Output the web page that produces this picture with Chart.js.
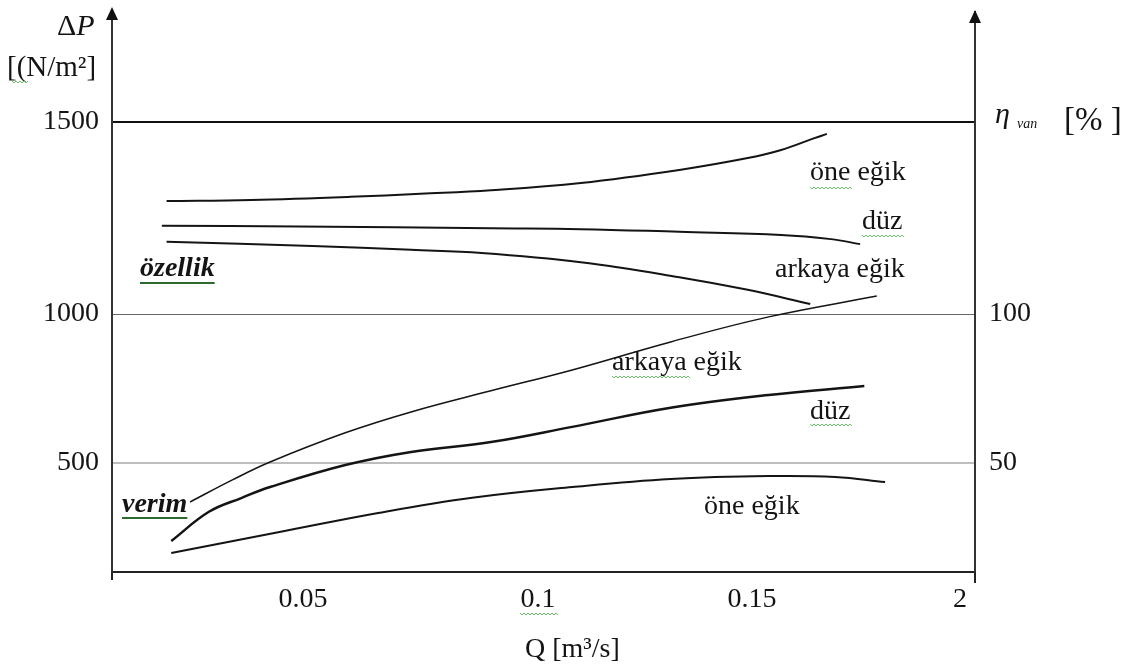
<!DOCTYPE html>
<html>
<head>
<meta charset="utf-8">
<script src="https://cdn.jsdelivr.net/npm/chart.js@4.4.0/dist/chart.umd.min.js"></script>
<style>
  body { margin: 0; background: #fff; }
  #kutu { width: 1123px; height: 666px; }
</style>
</head>
<body>
<div id="kutu"><canvas id="grafik"></canvas></div>
<script>
// ---- veriler ----
// özellik egrileri: ΔP [N/m²]
const qOneP = [0.021, 0.039, 0.060, 0.075, 0.090, 0.110, 0.133, 0.149, 0.157, 0.165, 0.168];
const pOne  = [1294, 1297, 1305, 1313, 1322, 1341, 1375, 1406, 1427, 1458, 1469];

const qDuzP = [0.020, 0.049, 0.090, 0.110, 0.133, 0.157, 0.169, 0.176];
const pDuz  = [1230, 1228, 1223, 1221, 1214, 1206, 1195, 1182];

const qArkP = [0.021, 0.052, 0.073, 0.088, 0.110, 0.133, 0.149, 0.164];
const pArk  = [1188, 1177, 1167, 1159, 1135, 1096, 1063, 1026];

// verim egrileri: η van [%]
const qArkE = [0.026, 0.035, 0.043, 0.059, 0.073, 0.090, 0.108, 0.131, 0.154, 0.180];
const eArk  = [36.9, 44.3, 50.3, 60.1, 67.1, 74.2, 81.2, 90.6, 99.0, 106.0];

const qDuzE = [0.022, 0.030, 0.037, 0.043, 0.059, 0.073, 0.090, 0.108, 0.131, 0.154, 0.177];
const eDuz  = [23.8, 33.6, 38.3, 41.9, 49.3, 53.7, 57.0, 62.1, 68.5, 72.8, 75.8];

const qOneE = [0.022, 0.045, 0.066, 0.086, 0.108, 0.131, 0.154, 0.170, 0.182];
const eOne  = [19.8, 26.8, 33.2, 38.3, 41.9, 44.6, 45.6, 45.3, 43.6];

// eksen isaretleri
const pTicks = [500, 1000, 1500];
const etaTicks = [50, 100];
const qTicks = [0.05, 0.1, 0.15, 0.2];
const qTickLabels = ['0.05', '0.1', '0.15', '2'];

const yazi = '"Liberation Serif", "Times New Roman", serif';

// orijinal cizimde eksenler esit aralikli degil, bu yuzden
// parca parca dogrusal bir eksen kullaniyoruz (deger -> eksen orani)
const kirilmalar = {
    x: { degerler: [0.0094, 0.05, 0.1, 0.15, 0.2, 0.2036], oranlar: [0, 0.2213, 0.4936, 0.7416, 0.9826, 1] },
    y: { degerler: [134.2, 500, 1000, 1500, 1786.5], oranlar: [0, 0.1946, 0.4607, 0.8036, 1] }
};

class ParcaliScale extends Chart.LinearScale {
    static id = 'parcali';
    static defaults = Chart.LinearScale.defaults;

    getPixelForValue(value) {
        if (value === null || value === undefined) return NaN;
        const d = kirilmalar[this.id].degerler;
        const o = kirilmalar[this.id].oranlar;
        let i = 0;
        while (i < d.length - 2 && value > d[i + 1]) i++;
        const oran = o[i] + (value - d[i]) / (d[i + 1] - d[i]) * (o[i + 1] - o[i]);
        return this.getPixelForDecimal(oran);
    }

    getValueForPixel(pixel) {
        const d = kirilmalar[this.id].degerler;
        const o = kirilmalar[this.id].oranlar;
        const oran = this.getDecimalForPixel(pixel);
        let i = 0;
        while (i < o.length - 2 && oran > o[i + 1]) i++;
        return d[i] + (oran - o[i]) / (o[i + 1] - o[i]) * (d[i + 1] - d[i]);
    }
}
Chart.register(ParcaliScale);

function seri(qs, degerler, eksen, kalinlik) {
    return {
        data: qs.map((q, i) => ({ x: q, y: degerler[i] })),
        yAxisID: eksen,
        borderColor: '#141414',
        borderWidth: kalinlik,
        pointRadius: 0,
        fill: false,
        tension: 0.4
    };
}

// yesil dalgali alt cizgi (yazim denetimi izi)
function dalga(ctx, x1, x2, y) {
    ctx.save();
    ctx.beginPath();
    let k = 0;
    for (let x = x1; x <= x2; x += 2, k++) {
        const yy = y + (k % 2 ? 1 : -1);
        if (k === 0) ctx.moveTo(x, yy); else ctx.lineTo(x, yy);
    }
    ctx.strokeStyle = '#6cc26c';
    ctx.lineWidth = 1;
    ctx.stroke();
    ctx.restore();
}

function metin(ctx, s, x, y, font) {
    ctx.font = font;
    ctx.fillText(s, x, y);
    return ctx.measureText(s).width;
}

// dikey eksenlerde etiket payini sifirla, cizim alani tam yerinde kalsin
function dikeyGenislik(w) {
    return s => { s.width = w; s.paddingTop = 0; s.paddingBottom = 0; };
}

const yazilar = {
    id: 'yazilar',
    afterDraw(chart) {
        const ctx = chart.ctx;
        const alan = chart.chartArea;
        const solX = chart.scales.y.right;
        const sagX = chart.scales.y1.left;
        ctx.save();

        // eksen uzantilari ve oklar
        ctx.strokeStyle = '#222';
        ctx.lineWidth = 2;
        ctx.beginPath();
        ctx.moveTo(solX, alan.bottom); ctx.lineTo(solX, 580);
        ctx.moveTo(sagX, alan.bottom); ctx.lineTo(sagX, 583);
        ctx.moveTo(solX, alan.top); ctx.lineTo(solX, 18);
        ctx.moveTo(sagX, alan.top); ctx.lineTo(sagX, 20);
        ctx.stroke();
        ctx.fillStyle = '#111';
        [[solX, 7], [sagX, 10]].forEach(([x, y]) => {
            ctx.beginPath();
            ctx.moveTo(x, y);
            ctx.lineTo(x - 6, y + 13);
            ctx.lineTo(x + 6, y + 13);
            ctx.closePath();
            ctx.fill();
        });

        ctx.fillStyle = '#141414';
        ctx.textBaseline = 'middle';
        ctx.textAlign = 'left';

        // sol eksen basligi
        let w = metin(ctx, 'Δ', 57, 27, '30px ' + yazi);
        metin(ctx, 'P', 57 + w, 27, 'italic 30px ' + yazi);
        metin(ctx, '[(N/m²]', 7, 68, '29px ' + yazi);
        dalga(ctx, 12, 28, 82);

        // sag eksen basligi
        ctx.textBaseline = 'alphabetic';
        metin(ctx, 'η', 995, 123, 'italic 30px ' + yazi);
        metin(ctx, 'van', 1017, 128, 'italic 14px ' + yazi);
        metin(ctx, '[% ]', 1064, 130, '33px ' + yazi);
        ctx.textBaseline = 'middle';

        // x eksen basligi
        metin(ctx, 'Q [m³/s]', 525, 650, '28px ' + yazi);
        dalga(ctx, 520, 558, 614);

        // egri isimleri
        const f = '28px ' + yazi;
        metin(ctx, 'öne eğik', 810, 173, f);
        dalga(ctx, 810, 852, 188);
        metin(ctx, 'düz', 862, 222, f);
        dalga(ctx, 862, 904, 236);
        metin(ctx, 'arkaya eğik', 775, 270, f);
        metin(ctx, 'arkaya eğik', 612, 363, f);
        dalga(ctx, 612, 690, 377);
        metin(ctx, 'düz', 810, 412, f);
        dalga(ctx, 810, 852, 425);
        metin(ctx, 'öne eğik', 704, 507, f);

        // grup isimleri (koyu yesil alt cizgili)
        const fb = 'italic bold 28px ' + yazi;
        w = metin(ctx, 'özellik', 140, 269, fb);
        ctx.fillStyle = '#2d6a2d';
        ctx.fillRect(140, 282, w, 2);
        ctx.fillStyle = '#141414';
        w = metin(ctx, 'verim', 122, 505, fb);
        ctx.fillStyle = '#2d6a2d';
        ctx.fillRect(122, 517, w, 2);

        ctx.restore();
    }
};

new Chart(document.getElementById('grafik'), {
    type: 'line',
    data: {
        datasets: [
            seri(qOneP, pOne, 'y', 2),
            seri(qDuzP, pDuz, 'y', 2),
            seri(qArkP, pArk, 'y', 2),
            seri(qArkE, eArk, 'y1', 1.5),
            seri(qDuzE, eDuz, 'y1', 2.5),
            seri(qOneE, eOne, 'y1', 2)
        ]
    },
    options: {
        responsive: true,
        maintainAspectRatio: false,
        animation: false,
        layout: { padding: { top: 12, left: 0, right: 0, bottom: 0 } },
        plugins: { legend: { display: false }, tooltip: { enabled: false } },
        scales: {
            x: {
                type: 'parcali',
                min: 0.0094,
                max: 0.2036,
                bounds: 'data',
                afterBuildTicks: s => { s.ticks = qTicks.map(v => ({ value: v })); },
                afterFit: s => { s.height = 94; s.paddingLeft = 0; s.paddingRight = 0; },
                grid: { display: false, drawTicks: false },
                border: { display: true, color: '#222', width: 2 },
                ticks: {
                    padding: 11,
                    color: '#141414',
                    autoSkip: false,
                    maxRotation: 0,
                    font: { family: yazi, size: 28 },
                    callback: (v, i) => qTickLabels[i]
                }
            },
            y: {
                type: 'parcali',
                position: 'left',
                min: 134.2,
                max: 1786.5,
                bounds: 'data',
                afterBuildTicks: s => { s.ticks = pTicks.map(v => ({ value: v })); },
                afterFit: dikeyGenislik(112),
                grid: {
                    drawTicks: false,
                    color: c => c.tick && c.tick.value === 1500 ? '#111' : (c.tick && c.tick.value === 1000 ? '#666' : '#bdbdbd'),
                    lineWidth: c => c.tick && c.tick.value === 1000 ? 1 : 2
                },
                border: { display: true, color: '#333', width: 2 },
                ticks: {
                    padding: 13,
                    color: '#141414',
                    font: { family: yazi, size: 28 },
                    callback: v => String(v)
                }
            },
            y1: {
                type: 'linear',
                position: 'right',
                min: 13.4,
                max: 201.3,
                bounds: 'data',
                afterBuildTicks: s => { s.ticks = etaTicks.map(v => ({ value: v })); },
                afterFit: dikeyGenislik(148),
                grid: { display: false, drawTicks: false },
                border: { display: true, color: '#333', width: 2 },
                ticks: {
                    padding: 14,
                    color: '#141414',
                    font: { family: yazi, size: 28 },
                    callback: v => String(v)
                }
            }
        }
    },
    plugins: [yazilar]
});
</script>
</body>
</html>
